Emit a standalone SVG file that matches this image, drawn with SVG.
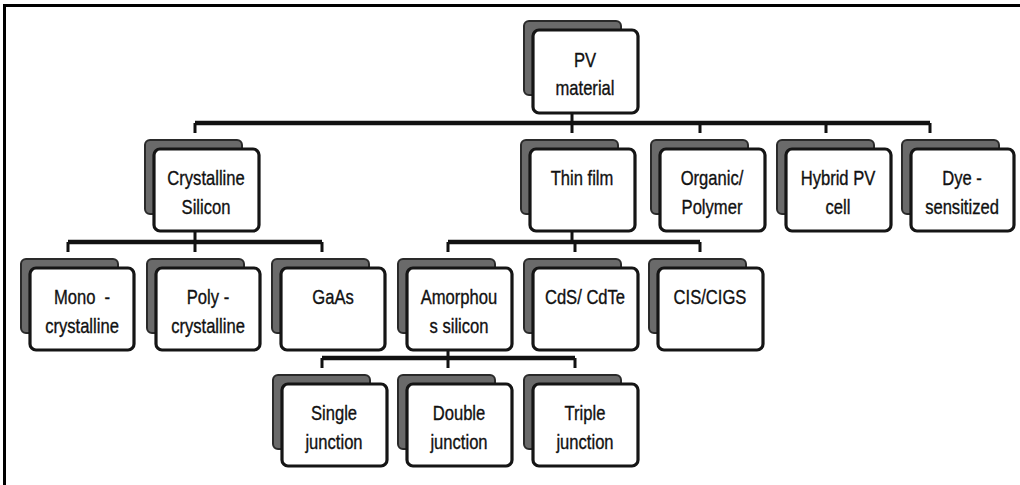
<svg xmlns="http://www.w3.org/2000/svg" width="1020" height="485" viewBox="0 0 1020 485">
<style>
.sh{fill:#6a6a6a;stroke:#2a2a2a;stroke-width:2}
.fr{fill:#ffffff;stroke:#151515;stroke-width:3.2}
.t{font-family:"Liberation Sans",Arial,sans-serif;font-size:20px;fill:#111;stroke:#111;stroke-width:0.35;text-anchor:middle}
.bus{stroke:#111;stroke-width:4.5;fill:none}
.stub{stroke:#111;stroke-width:3;fill:none}
.frame{stroke:#000;stroke-width:3;fill:none}
</style>
<rect width="1020" height="485" fill="#fff"/>
<path class="frame" d="M4.5,490 V5.5 H1030"/>
<g id="connectors">
<path class="bus" d="M195,123 H930"/>
<path class="stub" d="M572,112 V123 M195,123 V133 M572,123 V133 M700,123 V133 M826,123 V133 M930,123 V133"/>
<path class="bus" d="M68,242 H322"/>
<path class="stub" d="M195,231 V242 M68,242 V252 M195,242 V252 M322,242 V252"/>
<path class="bus" d="M448,242 H700"/>
<path class="stub" d="M572,231 V242 M448,242 V252 M575,242 V252 M700,242 V252"/>
<path class="bus" d="M322,358 H575"/>
<path class="stub" d="M448,350 V358 M322,358 V368 M448,358 V368 M575,358 V368"/>
</g>
<g id="pv"><rect class="sh" x="524" y="21" width="97" height="74" rx="5"/><rect class="fr" x="533" y="30" width="105" height="83" rx="6"/><text class="t" transform="translate(585,67) scale(0.83,1)">PV</text><text class="t" transform="translate(585,95) scale(0.83,1)">material</text></g>
<g id="crystalline"><rect class="sh" x="145" y="140" width="97" height="74" rx="5"/><rect class="fr" x="154" y="149" width="105" height="82" rx="6"/><text class="t" transform="translate(206,185) scale(0.83,1)">Crystalline</text><text class="t" transform="translate(206,214) scale(0.83,1)">Silicon</text></g>
<g id="thinfilm"><rect class="sh" x="521" y="140" width="97" height="74" rx="5"/><rect class="fr" x="530" y="149" width="105" height="82" rx="6"/><text class="t" transform="translate(582,185) scale(0.83,1)">Thin film</text></g>
<g id="organic"><rect class="sh" x="651" y="140" width="97" height="74" rx="5"/><rect class="fr" x="660" y="149" width="105" height="82" rx="6"/><text class="t" transform="translate(712,185) scale(0.83,1)">Organic/</text><text class="t" transform="translate(712,214) scale(0.83,1)">Polymer</text></g>
<g id="hybrid"><rect class="sh" x="777" y="140" width="97" height="74" rx="5"/><rect class="fr" x="786" y="149" width="105" height="82" rx="6"/><text class="t" transform="translate(838,185) scale(0.83,1)">Hybrid PV</text><text class="t" transform="translate(838,214) scale(0.83,1)">cell</text></g>
<g id="dye"><rect class="sh" x="902" y="140" width="97" height="74" rx="5"/><rect class="fr" x="911" y="149" width="103" height="82" rx="6"/><text class="t" transform="translate(962,185) scale(0.83,1)">Dye -</text><text class="t" transform="translate(962,214) scale(0.83,1)">sensitized</text></g>
<g id="mono"><rect class="sh" x="21" y="259" width="97" height="74" rx="5"/><rect class="fr" x="30" y="268" width="104" height="82" rx="6"/><text class="t" transform="translate(82,304) scale(0.83,1)" xml:space="preserve">Mono  -</text><text class="t" transform="translate(82,333) scale(0.83,1)">crystalline</text></g>
<g id="poly"><rect class="sh" x="147" y="259" width="97" height="74" rx="5"/><rect class="fr" x="156" y="268" width="104" height="82" rx="6"/><text class="t" transform="translate(208,304) scale(0.83,1)">Poly -</text><text class="t" transform="translate(208,333) scale(0.83,1)">crystalline</text></g>
<g id="gaas"><rect class="sh" x="272" y="259" width="97" height="74" rx="5"/><rect class="fr" x="281" y="268" width="104" height="82" rx="6"/><text class="t" transform="translate(333,304) scale(0.83,1)">GaAs</text></g>
<g id="amorphous"><rect class="sh" x="398" y="259" width="97" height="74" rx="5"/><rect class="fr" x="407" y="268" width="105" height="82" rx="6"/><text class="t" transform="translate(459,304) scale(0.83,1)">Amorphou</text><text class="t" transform="translate(459,333) scale(0.83,1)">s silicon</text></g>
<g id="cds"><rect class="sh" x="524" y="259" width="97" height="74" rx="5"/><rect class="fr" x="533" y="268" width="105" height="82" rx="6"/><text class="t" transform="translate(585,304) scale(0.83,1)">CdS/ CdTe</text></g>
<g id="cis"><rect class="sh" x="649" y="259" width="97" height="74" rx="5"/><rect class="fr" x="658" y="268" width="105" height="82" rx="6"/><text class="t" transform="translate(710,304) scale(0.83,1)">CIS/CIGS</text></g>
<g id="single"><rect class="sh" x="273" y="375" width="97" height="74" rx="5"/><rect class="fr" x="282" y="384" width="105" height="82" rx="6"/><text class="t" transform="translate(334,420) scale(0.83,1)">Single</text><text class="t" transform="translate(334,449) scale(0.83,1)">junction</text></g>
<g id="double"><rect class="sh" x="398" y="375" width="97" height="74" rx="5"/><rect class="fr" x="407" y="384" width="105" height="82" rx="6"/><text class="t" transform="translate(459,420) scale(0.83,1)">Double</text><text class="t" transform="translate(459,449) scale(0.83,1)">junction</text></g>
<g id="triple"><rect class="sh" x="524" y="375" width="97" height="74" rx="5"/><rect class="fr" x="533" y="384" width="105" height="82" rx="6"/><text class="t" transform="translate(585,420) scale(0.83,1)">Triple</text><text class="t" transform="translate(585,449) scale(0.83,1)">junction</text></g>
</svg>
